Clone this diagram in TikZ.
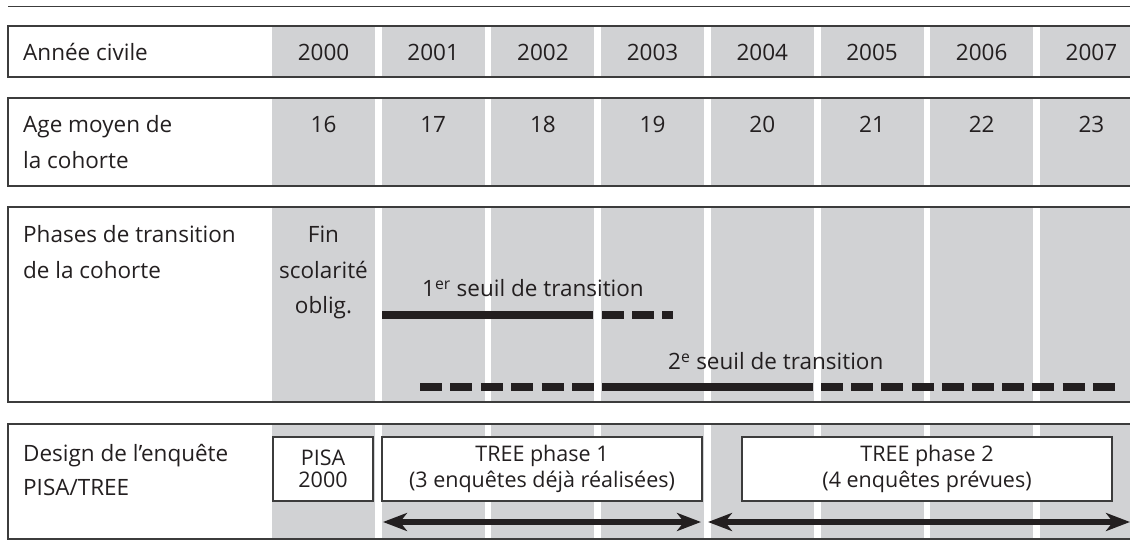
\documentclass[tikz,border=0pt]{standalone}
\usepackage{fontspec}
\setmainfont{Open Sans}
\usetikzlibrary{arrows.meta}
\definecolor{cellgray}{HTML}{D1D2D4}
\definecolor{rulecol}{HTML}{3C3C3C}
\definecolor{ink}{HTML}{231F20}
\begin{document}
\begin{tikzpicture}[x=1pt,y=-1pt,
  lab/.style={anchor=base west, inner sep=0pt, text=ink, font=\fontsize{22.5}{35}\selectfont},
  num/.style={anchor=base, inner sep=0pt, text=ink, font=\fontsize{22.5}{35}\selectfont},
  boxtxt/.style={draw=rulecol, line width=1.2pt, fill=white, inner sep=0pt, text=ink,
    font=\fontsize{21.5}{26}\selectfont, align=center, minimum height=64pt},
  framerule/.style={draw=rulecol, line width=1.3pt},
  seuil/.style={draw=ink, line width=8pt},
  seuildash/.style={draw=ink, line width=8pt, dash pattern=on 22pt off 8.3pt},
  spanarrow/.style={draw=ink, line width=5.5pt,
    {Stealth[length=24pt,width=18pt,inset=7pt]}-{Stealth[length=24pt,width=18pt,inset=7pt]}}
]
\useasboundingbox (0,0) rectangle (1130,545);
\clip (0,0) rectangle (1130,545);
% top rule
\draw[framerule] (8,6.5) -- (1130,6.5);
% grey columns
\foreach \t/\b in {26/77,98/186,207/402,424/539}{
  \foreach \i in {0,...,7}{
    \pgfmathsetmacro\xl{272+\i*109.7}
    \fill[cellgray] (\xl,\t) rectangle ({\xl+103},\b);
  }
  \draw[framerule] (1131,\t) -- (8,\t) -- (8,\b) -- (1131,\b);
}
% row 1
\node[lab] (l1) at (23,61) {Année civile};
\foreach \i/\y in {0/2000,1/2001,2/2002,3/2003,4/2004,5/2005,6/2006,7/2007}{
  \node[num] (y\i) at ({323.5+\i*109.7},61) {\y};
}
% row 2
\node[lab] (l2a) at (23,133) {Age moyen de};
\node[lab] (l2b) at (23,169) {la cohorte};
\foreach \i/\a in {0/16,1/17,2/18,3/19,4/20,5/21,6/22,7/23}{
  \node[num] (a\i) at ({323.5+\i*109.7},133) {\a};
}
% row 3
\node[lab] (l3a) at (23,243) {Phases de transition};
\node[lab] (l3b) at (23,279) {de la cohorte};
\node[num] (fin1) at (323.5,243) {Fin};
\node[num] (fin2) at (323.5,279) {scolarité};
\node[num] (fin3) at (323.5,314) {oblig.};
\node[lab] (s1) at (422,297) {1\textsuperscript{er} seuil de transition};
\node[lab] (s2) at (668,370) {2\textsuperscript{e} seuil de transition};
\coordinate (s1a) at (382,315);
\coordinate (s1b) at (593,315);
\coordinate (s1c) at (602,315);
\coordinate (s1d) at (673,315);
\draw[seuil] (s1a) -- (s1b);
\draw[seuildash, dash pattern=on 22pt off 8pt] (s1c) -- (s1d);
\coordinate (s2a) at (420,387);
\coordinate (s2b) at (594,387);
\coordinate (s2c) at (602,387);
\coordinate (s2d) at (813,387);
\coordinate (s2e) at (821,387);
\coordinate (s2f) at (1115,387);
\draw[seuildash, dash pattern=on 22pt off 8.4pt] (s2a) -- (s2b);
\draw[seuil] (s2c) -- (s2d);
\draw[seuildash, dash pattern=on 22pt off 8.2pt] (s2e) -- (s2f);
% row 4
\node[lab] (l4a) at (23,461) {Design de l’enquête};
\node[lab] (l4b) at (23,495) {PISA/TREE};
\node[boxtxt, minimum width=100pt] (pisa) at (323,469) {PISA\\[-4pt]2000};
\node[boxtxt, minimum width=320pt] (tree1) at (542,469) {TREE phase 1\\(3 enquêtes déjà réalisées)};
\node[boxtxt, minimum width=370pt] (tree2) at (927,469) {TREE phase 2\\(4 enquêtes prévues)};
\coordinate (p1a) at (383,522);
\coordinate (p1b) at (701,522);
\coordinate (p2a) at (708,522);
\coordinate (p2b) at (1130,522);
\draw[spanarrow] (p1a) -- (p1b);
\draw[spanarrow] (p2a) -- (p2b);
\end{tikzpicture}
\end{document}
